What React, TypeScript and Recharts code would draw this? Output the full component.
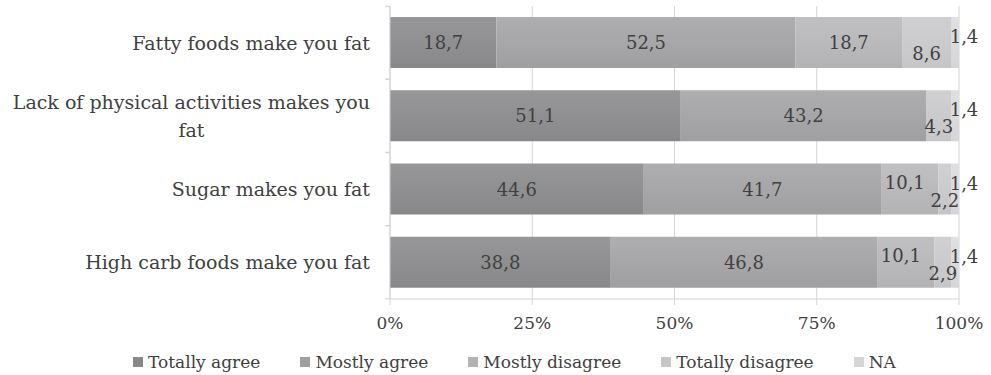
import { BarChart, Bar, XAxis, YAxis, CartesianGrid, Legend, LabelList } from "recharts";

const categories = [
  "Fatty foods make you fat",
  "Lack of physical activities makes you fat",
  "Sugar makes you fat",
  "High carb foods make you fat",
];
const totallyAgree = [18.7, 51.1, 44.6, 38.8];
const mostlyAgree = [52.5, 43.2, 41.7, 46.8];
const mostlyDisagree = [18.7, 0, 10.1, 10.1];
const totallyDisagree = [8.6, 4.3, 2.2, 2.9];
const notAnswered = [1.4, 1.4, 1.4, 1.4];
const xTicks = [0, 0.25, 0.5, 0.75, 1];

const data = categories.map((name, i) => ({
  name,
  ta: totallyAgree[i],
  ma: mostlyAgree[i],
  md: mostlyDisagree[i],
  td: totallyDisagree[i],
  na: notAnswered[i],
}));

const FONT = "'DejaVu Serif', serif";
const TEXT = "#404040";
const AXIS = "#d4d4d4";

const series = [
  { key: "ta", name: "Totally agree", top: "#979799", bottom: "#88888a" },
  { key: "ma", name: "Mostly agree", top: "#aeaeb0", bottom: "#9f9fa1" },
  { key: "md", name: "Mostly disagree", top: "#c0c0c2", bottom: "#b3b3b5" },
  { key: "td", name: "Totally disagree", top: "#d0d0d2", bottom: "#c6c6c8" },
  { key: "na", name: "NA", top: "#e0e0e2", bottom: "#d6d6d8" },
];

const fmt = (v: number) => v.toFixed(1).replace(".", ",");

// small segments get their labels nudged so they don't collide
function labelOffset(key: string, v: number) {
  if (key === "na") return { dx: 9, dy: -6 };
  if (key === "td") return { dx: 0, dy: 11 };
  if (key === "md" && v < 15) return { dx: -5, dy: -7 };
  return { dx: 0, dy: 0 };
}

function makeLabel(key: string) {
  return (props: any) => {
    const { x, y, width, height, value } = props;
    const v = Number(value);
    if (!v) return null;
    const { dx, dy } = labelOffset(key, v);
    return (
      <text
        x={x + width / 2 + dx}
        y={y + height / 2 + dy}
        textAnchor="middle"
        dominantBaseline="central"
        fontSize={18}
        fontFamily={FONT}
        fill={TEXT}
      >
        {fmt(v)}
      </text>
    );
  };
}

function wrap(text: string, max: number) {
  const lines: string[] = [];
  let cur = "";
  for (const w of text.split(" ")) {
    const next = cur ? cur + " " + w : w;
    if (next.length > max && cur) {
      lines.push(cur);
      cur = w;
    } else cur = next;
  }
  if (cur) lines.push(cur);
  return lines;
}

function CategoryTick({ x, y, payload }: any) {
  const half = 72.75 / 2;
  const lines = wrap(String(payload.value), 38);
  return (
    <g>
      <line x1={x - 5} x2={x} y1={y - half} y2={y - half} stroke={AXIS} />
      <line x1={x - 5} x2={x} y1={y + half} y2={y + half} stroke={AXIS} />
      <foreignObject x={0} y={y - half} width={x - 20} height={half * 2}>
        <div
          style={{
            display: "flex",
            height: "100%",
            alignItems: "center",
            justifyContent: "flex-end",
          }}
        >
          <div
            style={{
              textAlign: "center",
              fontFamily: FONT,
              fontSize: 19,
              lineHeight: "28px",
              color: TEXT,
              whiteSpace: "nowrap",
            }}
          >
            {lines.map((l) => (
              <div key={l}>{l}</div>
            ))}
          </div>
        </div>
      </foreignObject>
    </g>
  );
}

function LegendBox() {
  return (
    <div
      style={{
        display: "flex",
        gap: 40,
        paddingLeft: 133,
        fontFamily: FONT,
        fontSize: 17,
        lineHeight: "22px",
        color: TEXT,
      }}
    >
      {series.map((s) => (
        <div key={s.key} style={{ display: "flex", alignItems: "center" }}>
          <span
            style={{
              width: 10,
              height: 10,
              background: s.bottom,
              marginRight: 5,
              display: "inline-block",
            }}
          />
          {s.name}
        </div>
      ))}
    </div>
  );
}

export default function App() {
  return (
    <div style={{ position: "absolute", left: 0, top: 0, background: "#fff" }}>
      <BarChart
        width={991}
        height={375}
        data={data}
        layout="vertical"
        stackOffset="expand"
        margin={{ top: 6, right: 32, bottom: 24, left: 0 }}
        barSize={51}
      >
        <defs>
          {series.map((s) => (
            <linearGradient key={s.key} id={`g-${s.key}`} x1="0" y1="0" x2="0" y2="1">
              <stop offset="0%" stopColor={s.top} />
              <stop offset="100%" stopColor={s.bottom} />
            </linearGradient>
          ))}
        </defs>
        <CartesianGrid horizontal={false} stroke={AXIS} />
        <XAxis
          type="number"
          domain={[0, 1]}
          ticks={xTicks}
          tickFormatter={(v: number) => `${Math.round(v * 100)}%`}
          stroke={AXIS}
          tickSize={6}
          tickMargin={12}
          tick={{ fontSize: 17, fontFamily: FONT, fill: TEXT }}
        />
        <YAxis
          type="category"
          dataKey="name"
          width={390}
          stroke={AXIS}
          tickLine={false}
          tickSize={0}
          tickMargin={0}
          tick={<CategoryTick />}
          interval={0}
        />
        {series.map((s) => (
          <Bar
            key={s.key}
            dataKey={s.key}
            name={s.name}
            stackId="a"
            fill={`url(#g-${s.key})`}
            isAnimationActive={false}
          >
            <LabelList dataKey={s.key} content={makeLabel(s.key)} />
          </Bar>
        ))}
        <Legend
          verticalAlign="bottom"
          content={<LegendBox />}
          wrapperStyle={{ left: 0, width: 991, bottom: 2 }}
        />
      </BarChart>
    </div>
  );
}
